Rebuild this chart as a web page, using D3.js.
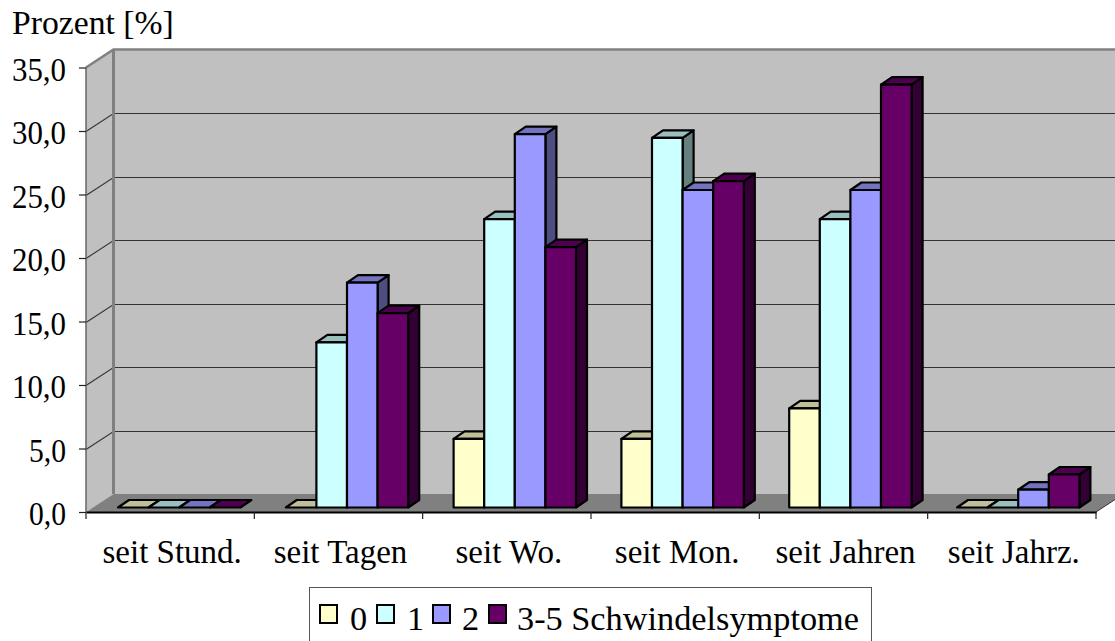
<!DOCTYPE html>
<html><head><meta charset="utf-8">
<script src="https://cdn.jsdelivr.net/npm/d3@7"></script>
<style>html,body{margin:0;padding:0;background:#fff;overflow:hidden}svg{display:block}text{font-family:"Liberation Serif","Times New Roman",serif;fill:#000}</style>
</head><body><svg id="c" width="1115" height="641"></svg>
<script>
const categories = ["seit Stund.","seit Tagen","seit Wo.","seit Mon.","seit Jahren","seit Jahrz."];
const seriesNames = ["0","1","2","3-5 Schwindelsymptome"];
const s0 = [0,0,5.4,5.4,7.8,0];
const s1 = [0,13.0,22.7,29.1,22.7,0];
const s2 = [0,17.7,29.4,25.0,25.0,1.4];
const s3 = [0,15.3,20.5,25.7,33.3,2.6];
const seriesValues = [s0,s1,s2,s3];
const seriesColors = ["#FFFFCC","#CCFFFF","#9999FF","#660066"];
const yTicks = [0,5,10,15,20,25,30,35];

const svg = d3.select("#c");
const x0=86,x1=1096,yB=512,yT=67.5,wallDx=27.5,wallDy=18;
const y = d3.scaleLinear().domain([0,35]).range([yB,yT]);
const x = d3.scaleBand().domain(categories).range([x0,x1]).padding(0);
const xBars = d3.scaleBand().domain(categories).range([118,118+6*167.8]).padding(0);
const barDx=11,barDy=7.5,barW=30.6,barBase=4.5;
const pts=a=>a.map(p=>p.join(",")).join(" ");

// walls and floor
svg.append("polygon").attr("points",pts([[x0,yB],[x0+wallDx,yB-wallDy],[x0+wallDx,yT-wallDy],[x0,yT]])).attr("fill","#c0c0c0");
svg.append("polygon").attr("points",pts([[x0+wallDx,yB-wallDy],[1115,yB-wallDy],[1115,yT-wallDy],[x0+wallDx,yT-wallDy]])).attr("fill","#c0c0c0");
svg.append("polygon").attr("points",pts([[x0,yB],[x1,yB],[x1+wallDx,yB-wallDy],[x0+wallDx,yB-wallDy]])).attr("fill","#808080");

// gridlines
const grid=svg.append("g").attr("stroke","#333").attr("stroke-width",1.1).attr("fill","none");
yTicks.filter(d=>d>0&&d<35).forEach(v=>{
  const p=Math.round(y(v))+.5;
  grid.append("path").attr("d",`M${x0},${p}L${x0+wallDx},${p-wallDy}L1115,${p-wallDy}`);
});
// wall outlines
svg.append("path").attr("d",`M${x0},${yT}L${x0+wallDx},${yT-wallDy}L1115,${yT-wallDy}`).attr("fill","none").attr("stroke","#808080").attr("stroke-width",2.5);
svg.append("path").attr("d",`M${x0+wallDx},${yT-wallDy}V${yB-wallDy}`).attr("fill","none").attr("stroke","#808080").attr("stroke-width",3);
svg.append("path").attr("d",`M${x0},${yT}V${yB}`).attr("fill","none").attr("stroke","#666").attr("stroke-width",1.5);
svg.append("path").attr("d",`M${x1},${yB}L${x1+wallDx},${yB-wallDy}`).attr("fill","none").attr("stroke","#333").attr("stroke-width",1);

// bars
const shade=(c,f)=>{const r=d3.rgb(c);return d3.rgb(r.r*f,r.g*f,r.b*f).formatHex();};
const bars=svg.append("g").attr("stroke","#000").attr("stroke-width",2.2).attr("stroke-linejoin","round");
categories.forEach((cat,ci)=>{
  seriesValues.forEach((vals,si)=>{
    const v=vals[ci],c=seriesColors[si];
    const a=xBars(cat)+si*barW,b=a+barW;
    const bot=yB-barBase,top=y(v)-barBase;
    if(v>0){
      bars.append("polygon").attr("points",pts([[b,bot],[b+barDx,bot-barDy],[b+barDx,top-barDy],[b,top]])).attr("fill",shade(c,.5));
    }
    bars.append("polygon").attr("points",pts([[a,top],[a+barDx,top-barDy],[b+barDx,top-barDy],[b,top]])).attr("fill",shade(c,.75));
    if(v>0){
      bars.append("rect").attr("x",a).attr("y",top).attr("width",barW).attr("height",bot-top).attr("fill",c);
    }
  });
});

// axes
const fmt=d=>d.toFixed(1).replace(".",",");
const ya=svg.append("g").attr("transform",`translate(${x0},0)`)
  .call(d3.axisLeft(y).tickValues(yTicks).tickFormat(fmt).tickSize(7).tickPadding(13));
ya.select(".domain").remove();
ya.selectAll("line").attr("stroke","#222").attr("stroke-width",1.2);
ya.selectAll("text").attr("font-size",33).attr("dy",null).attr("dominant-baseline",null).attr("y",12.5)
  .attr("textLength",d=>d<10?37:54).attr("lengthAdjust","spacingAndGlyphs");

const xa=svg.append("g").attr("transform",`translate(0,${yB})`)
  .call(d3.axisBottom(x).tickSize(0).tickPadding(0));
xa.select(".domain").attr("stroke","#000").attr("stroke-width",2);
xa.selectAll("text").attr("font-size",33).attr("dy",null).attr("y",51).attr("dx",2);
svg.append("g").selectAll("line").data(d3.range(7)).join("line")
  .attr("x1",i=>x0+i*x.step()).attr("x2",i=>x0+i*x.step())
  .attr("y1",yB).attr("y2",yB+7).attr("stroke","#222").attr("stroke-width",1.2);

svg.append("text").attr("x",12).attr("y",34).attr("font-size",33.7).text("Prozent [%]");

// legend
const lg=svg.append("g");
lg.append("rect").attr("x",309.5).attr("y",587.5).attr("width",562).attr("height",60).attr("fill","#fff").attr("stroke","#555").attr("stroke-width",1);
const swX=[320,377,433,489],txX=[350,407,462,517];
seriesNames.forEach((n,i)=>{
  lg.append("rect").attr("x",swX[i]).attr("y",605).attr("width",17).attr("height",18).attr("fill",seriesColors[i]).attr("stroke","#000").attr("stroke-width",2);
  lg.append("text").attr("x",txX[i]).attr("y",630).attr("font-size",34.3).text(n);
});
</script></body></html>
